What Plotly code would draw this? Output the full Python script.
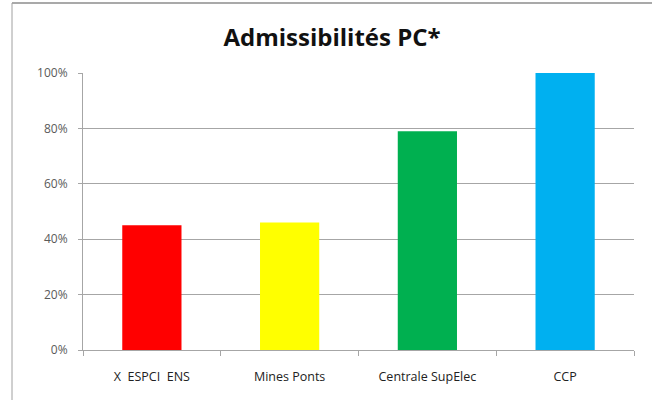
import plotly.graph_objects as go

categories = ["X  ESPCI  ENS", "Mines Ponts", "Centrale SupElec", "CCP"]
values = [45, 46, 79, 100]
colors = ["#ff0000", "#ffff00", "#00b050", "#00b0f0"]
y_ticks = [0, 20, 40, 60, 80, 100]
y_tick_labels = ["0%", "20%", "40%", "60%", "80%", "100%"]

FONT = "Open Sans, Liberation Sans, sans-serif"

fig = go.Figure()
fig.add_trace(go.Bar(x=categories, y=values, marker=dict(color=colors, line=dict(width=0)),
                     width=0.43, showlegend=False, hoverinfo="skip"))

W, H = 658, 401
L, R, T, B = 83, 24, 73, 51
pw = W - L - R
ph = H - T - B

fig.update_layout(
    width=W, height=H,
    margin=dict(l=L, r=R, t=T, b=B),
    paper_bgcolor="white", plot_bgcolor="white",
    title=dict(text="<b>Admissibilités PC*</b>", x=332 / W, xref="container",
               xanchor="center", y=1 - 38 / H, yanchor="middle",
               font=dict(family=FONT, size=24, color="#111111")),
    xaxis=dict(showgrid=False, showline=True, linecolor="#a6a6a6", linewidth=1,
               ticks="outside", tickson="boundaries", ticklen=5, tickcolor="#a6a6a6",
               tickfont=dict(family=FONT, size=12.5, color="#222222"),
               ticklabelstandoff=15, range=[-0.5, 3.5], fixedrange=True),
    yaxis=dict(range=[0, 100], tickvals=y_ticks, ticktext=y_tick_labels,
               showgrid=True, gridcolor="#a6a6a6", gridwidth=1,
               showline=True, linecolor="#a6a6a6", linewidth=1,
               ticks="outside", ticklen=4, tickcolor="#a6a6a6",
               tickfont=dict(family=FONT, size=12, color="#5a5a5a"),
               ticklabelstandoff=8, zeroline=False, fixedrange=True),
)

# outer chart border (top and left edges visible)
x0 = (12 - L) / pw
x1 = (652 - L) / pw
y_top = 1 + (T - 3) / ph
y_bot = 1 + (T - 400) / ph
fig.add_shape(type="line", xref="paper", yref="paper", x0=x0, x1=x1, y0=y_top, y1=y_top,
              line=dict(color="#8c8c8c", width=1.5))
fig.add_shape(type="line", xref="paper", yref="paper", x0=x0, x1=x0, y0=y_top, y1=y_bot,
              line=dict(color="#a0a0a0", width=1))

fig.write_html("out.html", config={"displayModeBar": False},
               post_script="document.body.style.margin='0';")
